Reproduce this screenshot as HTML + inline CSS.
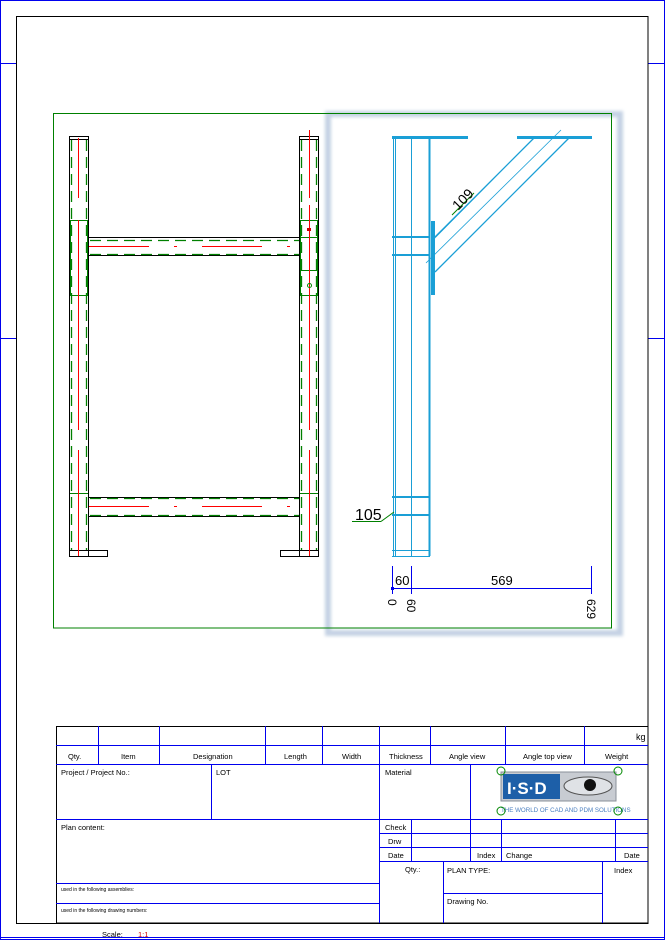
<!DOCTYPE html>
<html><head><meta charset="utf-8"><style>
html,body{margin:0;padding:0;background:#fff}
svg{display:block}
text{font-family:"Liberation Sans",sans-serif}
</style></head><body>
<svg width="665" height="940" viewBox="0 0 665 940" xmlns="http://www.w3.org/2000/svg">
<defs><filter id="bl" x="-5%" y="-5%" width="110%" height="110%"><feGaussianBlur stdDeviation="1.5"/></filter></defs>
<rect x="0.5" y="0.5" width="664" height="939" fill="none" stroke="#0000ee" stroke-width="1"/>
<g stroke="#0000ee" stroke-width="1">
<line x1="0" y1="63.5" x2="16" y2="63.5"/><line x1="648" y1="63.5" x2="665" y2="63.5"/>
<line x1="0" y1="338.5" x2="16" y2="338.5"/><line x1="648" y1="338.5" x2="665" y2="338.5"/>
<line x1="0" y1="937.5" x2="665" y2="937.5"/>
</g>
<rect x="16.5" y="16.5" width="631.5" height="907" fill="none" stroke="#000" stroke-width="1"/>
<rect x="328" y="114" width="292" height="519" fill="none" stroke="#c4d2e4" stroke-width="6" filter="url(#bl)"/>
<rect x="53.5" y="113.5" width="558" height="514.5" fill="none" stroke="#008000" stroke-width="1"/>

<!-- left view -->
<g fill="none" stroke="#000" stroke-width="1">
<rect x="69.5" y="136.5" width="19" height="420"/>
<line x1="69" y1="139.5" x2="89" y2="139.5"/>
<rect x="299.5" y="136.5" width="19" height="420"/>
<line x1="299" y1="139.5" x2="319" y2="139.5"/>
<line x1="89" y1="237.5" x2="299" y2="237.5"/><line x1="89" y1="255.5" x2="299" y2="255.5"/>
<line x1="89" y1="497.5" x2="299" y2="497.5"/><line x1="89" y1="516.5" x2="299" y2="516.5"/>
<rect x="69.5" y="550.5" width="38" height="6"/>
<rect x="280.5" y="550.5" width="38" height="6"/>
</g>
<g stroke="#008000" stroke-width="1" fill="none">
<g stroke-dasharray="11,6" stroke-width="1.3">
<line x1="71.5" y1="140" x2="71.5" y2="550"/><line x1="86.5" y1="140" x2="86.5" y2="550"/>
<line x1="301.5" y1="140" x2="301.5" y2="550"/><line x1="316.5" y1="140" x2="316.5" y2="550"/>
<line x1="90" y1="240.5" x2="299" y2="240.5"/><line x1="90" y1="254.5" x2="299" y2="254.5"/>
<line x1="90" y1="498.5" x2="299" y2="498.5"/><line x1="90" y1="515.5" x2="299" y2="515.5"/>
</g>
<rect x="70.5" y="220.5" width="17" height="75"/>
<rect x="300.5" y="220.5" width="17" height="75"/>
<line x1="300" y1="237.5" x2="318" y2="237.5"/><line x1="300" y1="270.5" x2="318" y2="270.5"/>
<line x1="70" y1="493.5" x2="88" y2="493.5"/><line x1="300" y1="493.5" x2="318" y2="493.5"/>
</g>
<g stroke="#ff0000" stroke-width="1">
<line x1="78.5" y1="138" x2="78.5" y2="198"/><line x1="78.5" y1="220" x2="78.5" y2="430"/>
<line x1="78.5" y1="450" x2="78.5" y2="556"/>
<line x1="309.5" y1="130" x2="309.5" y2="198"/><line x1="309.5" y1="205" x2="309.5" y2="430"/>
<line x1="309.5" y1="450" x2="309.5" y2="556"/>
<g stroke-dasharray="60,25,3,25">
<line x1="89" y1="246.5" x2="299" y2="246.5"/><line x1="89" y1="506.5" x2="299" y2="506.5"/>
</g>
</g>
<rect x="307" y="228" width="4" height="3" fill="#c00"/>
<circle cx="309.5" cy="285.5" r="2" fill="none" stroke="#080"/>

<!-- right view -->
<g stroke="#1a9fd6" fill="none">
<line x1="392" y1="137.5" x2="468" y2="137.5" stroke-width="3"/>
<line x1="517" y1="137.5" x2="592" y2="137.5" stroke-width="3"/>
<line x1="393.5" y1="137" x2="393.5" y2="556" stroke-width="1"/>
<line x1="395.5" y1="137" x2="395.5" y2="556" stroke-width="1"/>
<line x1="411.5" y1="137" x2="411.5" y2="556" stroke-width="1"/>
<line x1="429.5" y1="137" x2="429.5" y2="556" stroke-width="2"/>
<line x1="392" y1="237" x2="430" y2="237" stroke-width="2"/>
<line x1="392" y1="255" x2="430" y2="255" stroke-width="2"/>
<line x1="392" y1="497" x2="430" y2="497" stroke-width="2"/>
<line x1="392" y1="515" x2="430" y2="515" stroke-width="2"/>
<line x1="392" y1="550.5" x2="430" y2="550.5" stroke-width="1"/>
<line x1="392" y1="556.5" x2="430" y2="556.5" stroke-width="1"/>
<rect x="431" y="221" width="4" height="74" fill="#1a9fd6" stroke="none"/>
<line x1="435" y1="237" x2="534" y2="138" stroke-width="1.3"/>
<line x1="426" y1="263" x2="561" y2="130" stroke-width="0.8"/>
<line x1="435" y1="272" x2="569" y2="138" stroke-width="1.3"/>
<line x1="436" y1="237" x2="534" y2="138" stroke-width="0.6" transform="translate(-2,2)"/>
</g>
<line x1="452" y1="215" x2="474" y2="193" stroke="#008000"/>
<text x="0" y="0" font-size="14" fill="#000" transform="translate(458,211) rotate(-45)">109</text>
<line x1="352" y1="521.5" x2="381" y2="521.5" stroke="#008000"/>
<line x1="381" y1="521.5" x2="394" y2="512" stroke="#008000"/>
<text x="355" y="520" font-size="16" fill="#000">105</text>
<g stroke="#0000ee" stroke-width="1">
<line x1="392" y1="588.5" x2="592" y2="588.5"/>
<line x1="392.5" y1="566" x2="392.5" y2="594"/>
<line x1="411.5" y1="566" x2="411.5" y2="594"/>
<line x1="591.5" y1="566" x2="591.5" y2="594"/>
</g>
<rect x="391" y="587" width="3" height="3" fill="#0000ee"/>
<text x="395" y="585" font-size="13" fill="#000">60</text>
<text x="491" y="585" font-size="13" fill="#000">569</text>
<text font-size="12" fill="#000" transform="translate(388,599) rotate(90)">0</text>
<text font-size="12" fill="#000" transform="translate(407,599) rotate(90)">60</text>
<text font-size="12" fill="#000" transform="translate(587,599) rotate(90)">629</text>

<!-- title block -->
<g stroke="#0000ee" stroke-width="1" fill="none">
<rect x="56.5" y="726.5" width="591.5" height="196.5" stroke="#000"/>
<line x1="56" y1="745.5" x2="648" y2="745.5"/>
<line x1="56" y1="764.5" x2="648" y2="764.5"/>
<line x1="56" y1="819.5" x2="648" y2="819.5"/>
<g>
<line x1="98.5" y1="726" x2="98.5" y2="764"/><line x1="159.5" y1="726" x2="159.5" y2="764"/>
<line x1="265.5" y1="726" x2="265.5" y2="764"/><line x1="322.5" y1="726" x2="322.5" y2="764"/>
<line x1="379.5" y1="726" x2="379.5" y2="764"/><line x1="430.5" y1="726" x2="430.5" y2="764"/>
<line x1="505.5" y1="726" x2="505.5" y2="764"/><line x1="584.5" y1="726" x2="584.5" y2="764"/>
</g>
<line x1="211.5" y1="764" x2="211.5" y2="819"/>
<line x1="379.5" y1="764" x2="379.5" y2="923"/>
<line x1="470.5" y1="764" x2="470.5" y2="861"/>
<line x1="380" y1="833.5" x2="648" y2="833.5"/>
<line x1="380" y1="847.5" x2="648" y2="847.5"/>
<line x1="380" y1="861.5" x2="648" y2="861.5"/>
<line x1="411.5" y1="819" x2="411.5" y2="861"/>
<line x1="501.5" y1="819" x2="501.5" y2="861"/>
<line x1="615.5" y1="819" x2="615.5" y2="861"/>
<line x1="443.5" y1="861" x2="443.5" y2="923"/>
<line x1="602.5" y1="861" x2="602.5" y2="923"/>
<line x1="443" y1="893.5" x2="602" y2="893.5"/>
<line x1="56" y1="883.5" x2="380" y2="883.5"/>
<line x1="56" y1="903.5" x2="380" y2="903.5"/>
</g>
<g font-size="7.5" fill="#000">
<text x="636" y="740" font-size="9">kg</text>
<text x="68" y="759">Qty.</text><text x="121" y="759">Item</text>
<text x="193" y="759">Designation</text><text x="284" y="759">Length</text>
<text x="342" y="759">Width</text><text x="389" y="759">Thickness</text>
<text x="449" y="759">Angle view</text><text x="523" y="759">Angle top view</text>
<text x="605" y="759">Weight</text>
<text x="61" y="775">Project / Project No.:</text><text x="216" y="775">LOT</text>
<text x="385" y="775">Material</text>
<text x="61" y="830">Plan content:</text>
<text x="385" y="830">Check</text><text x="388" y="844">Drw</text><text x="388" y="858">Date</text>
<text x="477" y="858">Index</text><text x="506" y="858">Change</text><text x="624" y="858">Date</text>
<text x="405" y="872">Qty.:</text><text x="447" y="873">PLAN TYPE:</text>
<text x="614" y="873">Index</text><text x="447" y="904">Drawing No.</text>
<text x="61" y="891" font-size="5">used in the following assemblies:</text>
<text x="61" y="912" font-size="5">used in the following drawing numbers:</text>
<text x="102" y="937">Scale:</text><text x="138" y="937" fill="#c00">1:1</text>
</g>
<rect x="501" y="772" width="115" height="29" fill="#c8ccd2" stroke="#8a9099"/>
<rect x="503" y="774" width="57" height="25" fill="#1d5fa8"/>
<text x="507" y="794" font-size="17" font-weight="bold" fill="#fff">I·S·D</text>
<ellipse cx="588" cy="786" rx="24" ry="9" fill="#dfe2e6" stroke="#555"/>
<circle cx="590" cy="785" r="6" fill="#111"/>
<text x="501" y="812" font-size="6.2" fill="#4a7fc0">THE WORLD OF CAD AND PDM SOLUTIONS</text>
<g fill="none" stroke="#080">
<circle cx="501" cy="771" r="4"/><circle cx="618" cy="771" r="4"/>
<circle cx="501" cy="811" r="4"/><circle cx="618" cy="811" r="4"/>
</g>
</svg>
</body></html>
